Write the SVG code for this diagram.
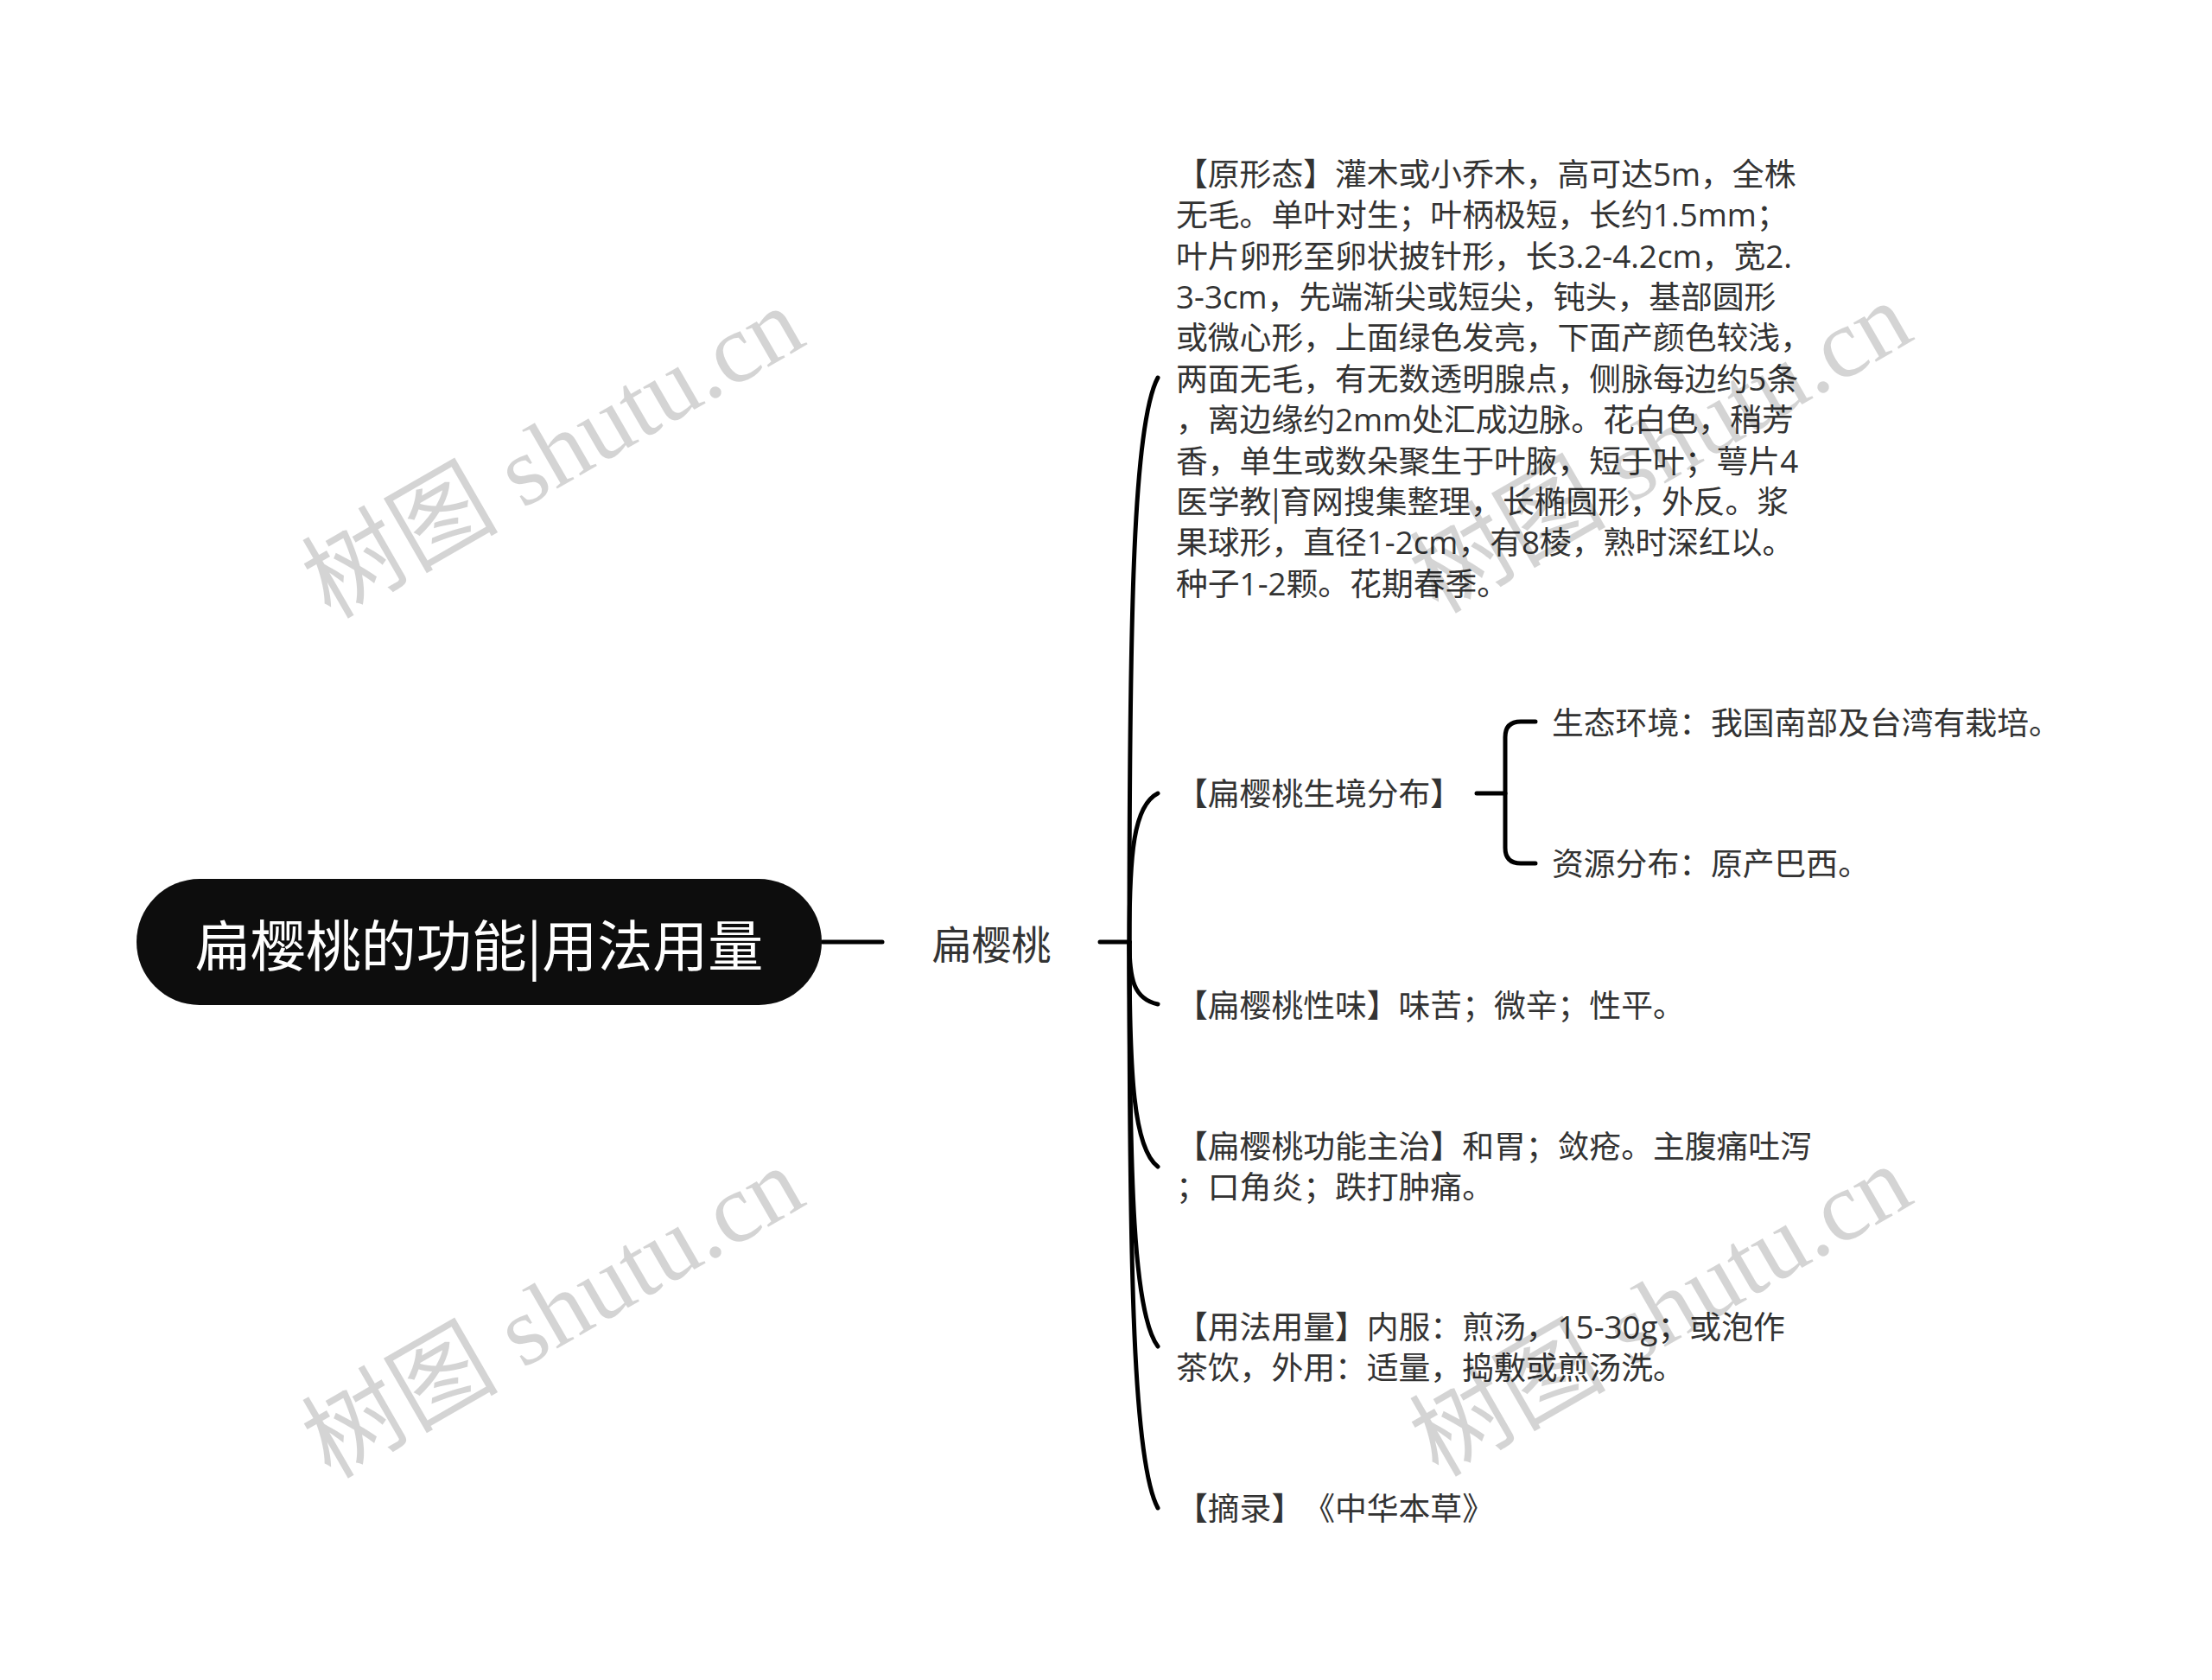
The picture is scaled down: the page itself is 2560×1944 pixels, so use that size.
<svg xmlns="http://www.w3.org/2000/svg" width="2560" height="1944" viewBox="0 0 2560 1944">
<style>
text{text-spacing-trim:space-all}
.t{font-family:"Open Sans","Noto Sans CJK SC",sans-serif;font-size:36.8px;fill:#333;dominant-baseline:central}
.sub{font-family:"Noto Sans CJK SC",sans-serif;font-size:46px;fill:#333;dominant-baseline:central;text-anchor:middle}
.root{font-family:"Noto Sans CJK SC",sans-serif;font-size:64px;fill:#fff;dominant-baseline:central;text-anchor:middle}
.bar{font-family:"Noto Sans CJK SC",sans-serif}
.ln{fill:none;stroke:#000;stroke-width:5;stroke-linecap:round}
.wm{font-family:"Liberation Serif","Noto Sans CJK SC",serif;font-size:114px;fill:#000;fill-opacity:0.17;text-anchor:middle;dominant-baseline:central}
</style>
<rect width="2560" height="1944" fill="#fff"/>
<g id="connectors">
<path class="ln" d="M952,1090 H1021"/>
<path class="ln" d="M1273,1090 H1307"/>
<path class="ln" d="M1307,1090 C1307,698 1312,489 1340,437"/>
<path class="ln" d="M1307,1090 C1307,987 1312,932 1340,918"/>
<path class="ln" d="M1307,1090 C1307,1133 1312,1156 1340,1162"/>
<path class="ln" d="M1307,1090 C1307,1246 1312,1329 1340,1350"/>
<path class="ln" d="M1307,1090 C1307,1371 1312,1521 1340,1558"/>
<path class="ln" d="M1307,1090 C1307,1483 1312,1693 1340,1745"/>
<path class="ln" d="M1709,918 H1742"/>
<path class="ln" d="M1777,835 H1760 Q1742,835 1742,853 V981 Q1742,999 1760,999 H1777"/>
</g>
<g id="root">
<rect x="158" y="1017" width="793" height="146" rx="73" ry="73" fill="#0d0d0d"/>
<text class="root" x="554.5" y="1090">扁樱桃的功能|用法用量</text>
</g>
<g id="n-main">
<text class="sub" x="1147.5" y="1090">扁樱桃</text>
</g>
<g id="n-xingtai">
<text class="t" x="1361">
<tspan x="1361" y="201">【原形态】灌木或小乔木，高可达5m，全株</tspan>
<tspan x="1361" y="248.4">无毛。单叶对生；叶柄极短，长约1.5mm；</tspan>
<tspan x="1361" y="295.7">叶片卵形至卵状披针形，长3.2-4.2cm，宽2.</tspan>
<tspan x="1361" y="343.1">3-3cm，先端渐尖或短尖，钝头，基部圆形</tspan>
<tspan x="1361" y="390.4">或微心形，上面绿色发亮，下面产颜色较浅，</tspan>
<tspan x="1361" y="437.8">两面无毛，有无数透明腺点，侧脉每边约5条</tspan>
<tspan x="1361" y="485.1">，离边缘约2mm处汇成边脉。花白色，稍芳</tspan>
<tspan x="1361" y="532.5">香，单生或数朵聚生于叶腋，短于叶；萼片4</tspan>
<tspan x="1361" y="579.8">医学教<tspan class="bar">|</tspan>育网搜集整理，长椭圆形，外反。浆</tspan>
<tspan x="1361" y="627.2">果球形，直径1-2cm，有8棱，熟时深红以。</tspan>
<tspan x="1361" y="674.5">种子1-2颗。花期春季。</tspan>
</text>
</g>
<g id="n-fenbu">
<text class="t" x="1361" y="918">【扁樱桃生境分布】</text>
</g>
<g id="n-shengtai">
<text class="t" x="1796" y="836">生态环境：我国南部及台湾有栽培。</text>
</g>
<g id="n-ziyuan">
<text class="t" x="1796" y="999">资源分布：原产巴西。</text>
</g>
<g id="n-xingwei">
<text class="t" x="1361" y="1162.5">【扁樱桃性味】味苦；微辛；性平。</text>
</g>
<g id="n-gongneng">
<text class="t">
<tspan x="1361" y="1326">【扁樱桃功能主治】和胃；敛疮。主腹痛吐泻</tspan>
<tspan x="1361" y="1373.3">；口角炎；跌打肿痛。</tspan>
</text>
</g>
<g id="n-yongfa">
<text class="t">
<tspan x="1361" y="1534.7">【用法用量】内服：煎汤，15-30g；或泡作</tspan>
<tspan x="1361" y="1582.1">茶饮，外用：适量，捣敷或煎汤洗。</tspan>
</text>
</g>
<g id="n-zhailu">
<text class="t" x="1361" y="1745.4">【摘录】《中华本草》</text>
</g>
<g id="watermarks">
<text class="wm" transform="translate(640,524) rotate(-30)">树图 shutu.cn</text>
<text class="wm" transform="translate(1922,518) rotate(-30)">树图 shutu.cn</text>
<text class="wm" transform="translate(640,1519) rotate(-30)">树图 shutu.cn</text>
<text class="wm" transform="translate(1922,1517) rotate(-30)">树图 shutu.cn</text>
</g>
</svg>
